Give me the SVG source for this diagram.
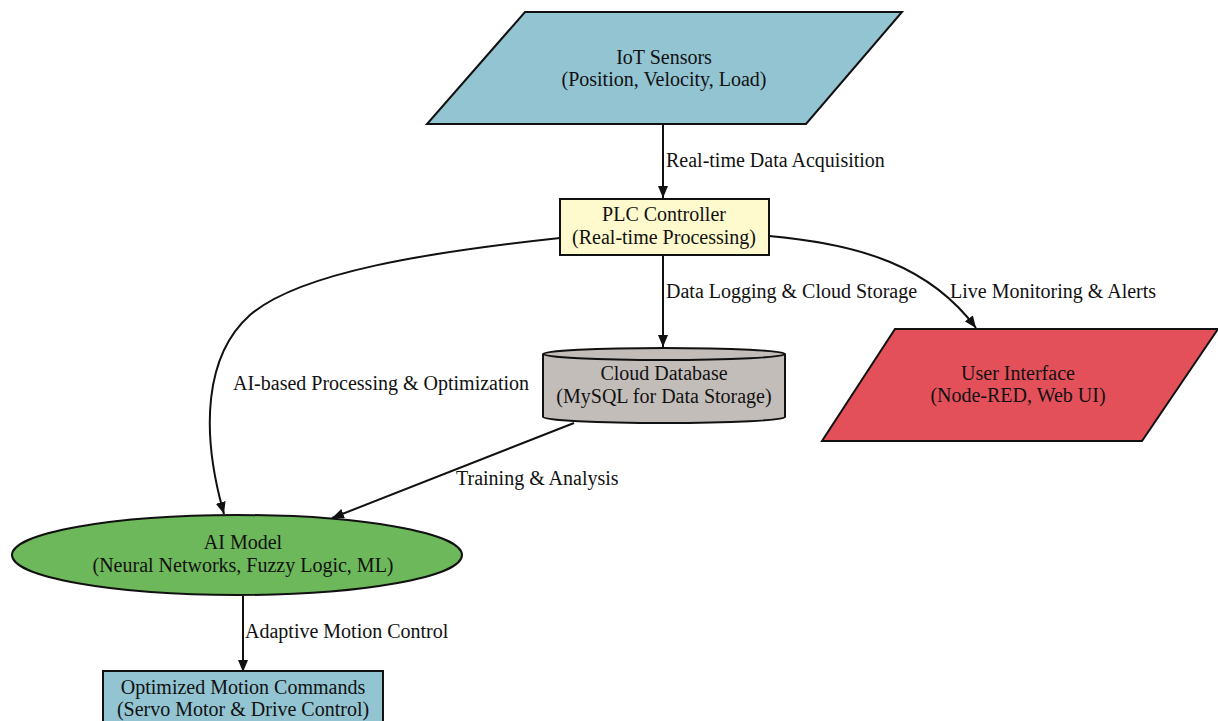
<svg xmlns="http://www.w3.org/2000/svg" width="1218" height="721" viewBox="0 0 1218 721" font-family="'Liberation Serif', 'Times New Roman', serif">
  <style>
    .label { font-family: 'Liberation Serif', 'Times New Roman', serif; font-size: 20px; fill: #111; }
    .ntext { text-anchor: middle; }
    .node { stroke: #111; stroke-width: 2; }
    .edge { fill: none; stroke: #111; stroke-width: 2; }
  </style>
  <defs>
    <marker id="arrow" viewBox="0 0 12 10" refX="12" refY="5" markerWidth="12" markerHeight="10" markerUnits="userSpaceOnUse" orient="auto">
      <path d="M0,0 L12,5 L0,10 Z" fill="#111"/>
    </marker>
  </defs>

  <rect width="1218" height="721" fill="#ffffff"/>

  <!-- connectors -->
  <g id="edges">
    <path class="edge" d="M663,124 L663,198" marker-end="url(#arrow)"/>
    <path class="edge" d="M663,256 L663,347" marker-end="url(#arrow)"/>
    <path class="edge" d="M769,236 C860,244 930,266 976,328" marker-end="url(#arrow)"/>
    <path class="edge" d="M560,238 C430,252 300,272 250,315 C205,355 200,430 224,514" marker-end="url(#arrow)"/>
    <path class="edge" d="M574,423 L332,518" marker-end="url(#arrow)"/>
    <path class="edge" d="M243,596 L243,672" marker-end="url(#arrow)"/>
    <text class="label" x="666" y="167">Real-time Data Acquisition</text>
    <text class="label" x="666" y="298">Data Logging &amp; Cloud Storage</text>
    <text class="label" x="950" y="298">Live Monitoring &amp; Alerts</text>
    <text class="label" x="233" y="390">AI-based Processing &amp; Optimization</text>
    <text class="label" x="456" y="485">Training &amp; Analysis</text>
    <text class="label" x="245" y="638">Adaptive Motion Control</text>
  </g>

  <g id="iot-sensors">
    <polygon class="node" points="525,12 902,12 806,124 427,124" fill="#93c4d2"/>
    <text class="label ntext" x="664" y="64">IoT Sensors</text>
    <text class="label ntext" x="664" y="86">(Position, Velocity, Load)</text>
  </g>

  <g id="plc-controller">
    <rect class="node" x="560" y="199" width="209" height="56" fill="#fffacd"/>
    <text class="label ntext" x="664" y="221">PLC Controller</text>
    <text class="label ntext" x="664" y="244">(Real-time Processing)</text>
  </g>

  <g id="cloud-database">
    <path class="node" d="M543,354 A121,6 0 0 1 785,354 L785,417 A121,6 0 0 1 543,417 Z" fill="#c3bdb9"/>
    <path class="node" d="M543,354 A121,6 0 0 0 785,354" fill="none"/>
    <text class="label ntext" x="664" y="380">Cloud Database</text>
    <text class="label ntext" x="664" y="403">(MySQL for Data Storage)</text>
  </g>

  <g id="user-interface">
    <polygon class="node" points="895,329 1218,329 1142,441 822,441" fill="#e4505a"/>
    <text class="label ntext" x="1018" y="380">User Interface</text>
    <text class="label ntext" x="1018" y="402">(Node-RED, Web UI)</text>
  </g>

  <g id="ai-model">
    <ellipse class="node" cx="237" cy="555" rx="225" ry="40" fill="#6db85a"/>
    <text class="label ntext" x="243" y="549">AI Model</text>
    <text class="label ntext" x="243" y="572">(Neural Networks, Fuzzy Logic, ML)</text>
  </g>

  <g id="motion-commands">
    <rect class="node" x="103" y="671" width="280" height="60" fill="#93c4d2"/>
    <text class="label ntext" x="243" y="694">Optimized Motion Commands</text>
    <text class="label ntext" x="243" y="716">(Servo Motor &amp; Drive Control)</text>
  </g>
</svg>
